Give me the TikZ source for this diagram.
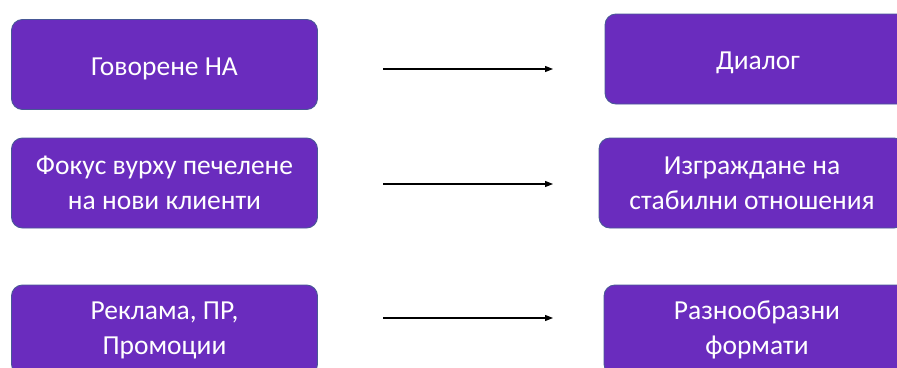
\documentclass[tikz,border=0pt]{standalone}
\usepackage{fontspec}
\setmainfont{Carlito}
\usetikzlibrary{arrows.meta}
\definecolor{boxfill}{RGB}{106,44,190}
\definecolor{boxline}{RGB}{72,88,150}
\newcommand{\lowtext}[1]{\raisebox{-2pt}[\height][0pt]{#1}}
\tikzset{
  box/.style={draw=boxline, line width=0.9pt, fill=boxfill, rounded corners=11pt,
    minimum width=306pt, minimum height=90pt, text=white, align=center,
    font=\fontsize{27.5pt}{35pt}\selectfont, inner sep=0pt},
  arr/.style={-{Triangle[length=8pt,width=6pt]}, line width=1.2pt, black}
}
\begin{document}
\begin{tikzpicture}[x=1pt,y=-1pt]
\useasboundingbox (0,0) rectangle (897,367);
\clip (0,0) rectangle (897,367);
\node[box] (l1) at (164.5,64.5) {\lowtext{Говорене НА}};
\node[box] (l2) at (164.5,183) {Фокус вурху печелене\\на нови клиенти};
\node[box] (l3) at (164.5,330) {Реклама, ПР,\\Промоции};
\node[box] (r1) at (758,59) {\lowtext{Диалог}};
\node[box] (r2) at (752,183) {Изграждане на\\стабилни отношения};
\node[box] (r3) at (757,330) {Разнообразни\\формати};
\coordinate (a1s) at (383,69);  \coordinate (a1e) at (553,69);
\coordinate (a2s) at (383,184); \coordinate (a2e) at (553,184);
\coordinate (a3s) at (383,318); \coordinate (a3e) at (553,318);
\draw[arr] (a1s) -- (a1e);
\draw[arr] (a2s) -- (a2e);
\draw[arr] (a3s) -- (a3e);
\end{tikzpicture}
\end{document}
